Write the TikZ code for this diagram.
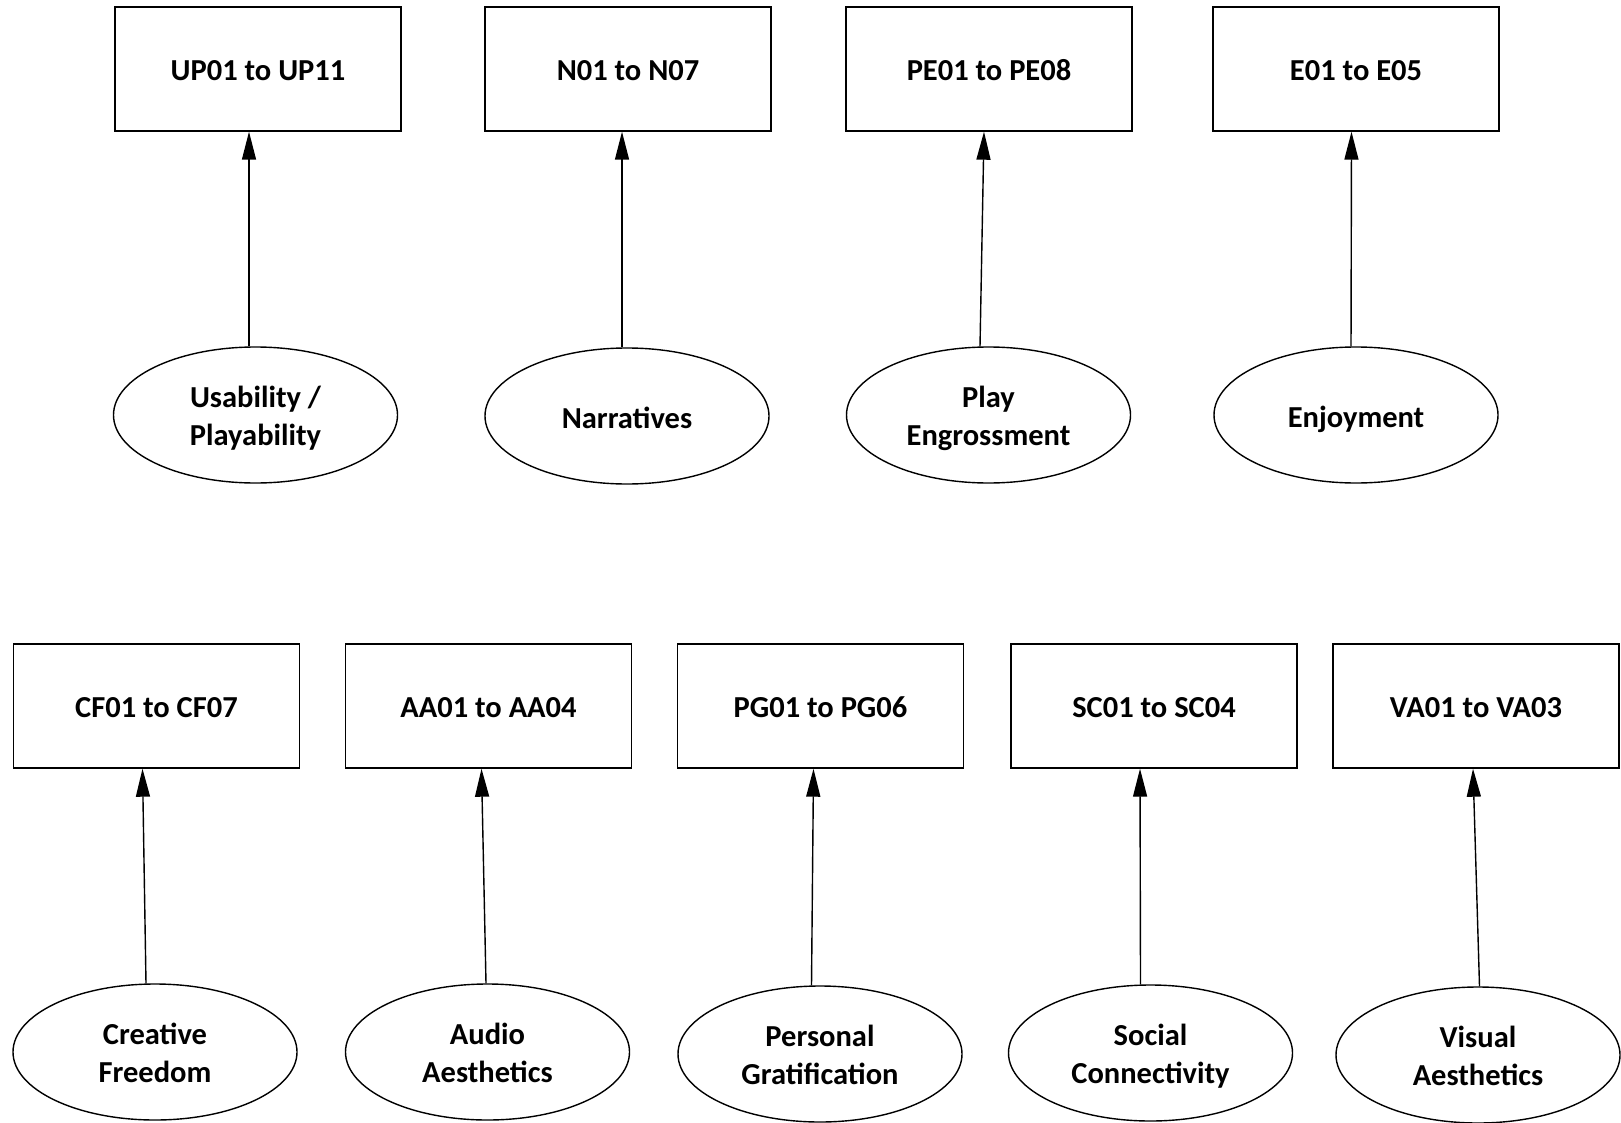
\documentclass[tikz,border=0pt]{standalone}
\usepackage{fontspec}
\setmainfont{Carlito}
\usetikzlibrary{shapes.geometric,arrows.meta}

\begin{document}
\begin{tikzpicture}[x=1pt, y=-1pt,
  font=\fontsize{30.5}{38}\selectfont\bfseries,
  item/.style={draw=black, line width=1.4pt, rectangle, minimum width=286pt, minimum height=124pt, inner sep=2pt, text height=23.5pt, text depth=0pt},
  factor/.style={draw=black, line width=1.4pt, ellipse, minimum width=284pt, minimum height=136pt, align=center, inner sep=1pt, text height=63pt, text depth=3pt},
  factor1/.style={factor, text height=26pt, text depth=2pt},
  arr/.style={-{Triangle[length=28pt,width=14pt]}, line width=1.4pt}]
\useasboundingbox (0,0) rectangle (1621,1123);

% top row: item boxes
\node[item] (up) at (258,69) {UP01 to UP11};
\node[item] (n) at (628,69) {N01 to N07};
\node[item] (pe) at (989,69) {PE01 to PE08};
\node[item] (e) at (1356,69) {E01 to E05};

% top row: factors
\node[factor] (upf) at (255.5,415) {Usability /\\Playability};
\node[factor1] (nf) at (627,416) {Narratives};
\node[factor] (pef) at (988.5,415) {Play\\Engrossment};
\node[factor1] (ef) at (1356,415) {Enjoyment};

\draw[arr] ([xshift=-6.5pt]upf.north) -- ([xshift=-9pt]up.south);
\draw[arr] ([xshift=-5pt]nf.north) -- ([xshift=-6pt]n.south);
\draw[arr] ([xshift=-8.5pt]pef.north) -- ([xshift=-5pt]pe.south);
\draw[arr] ([xshift=-5pt]ef.north) -- ([xshift=-4.5pt]e.south);

% bottom row: item boxes
\node[item] (cf) at (156.5,706) {CF01 to CF07};
\node[item] (aa) at (488.5,706) {AA01 to AA04};
\node[item] (pg) at (820.5,706) {PG01 to PG06};
\node[item] (sc) at (1154,706) {SC01 to SC04};
\node[item] (va) at (1476,706) {VA01 to VA03};

% bottom row: factors
\node[factor] (cff) at (155,1052) {Creative\\Freedom};
\node[factor] (aaf) at (487.5,1052) {Audio\\Aesthetics};
\node[factor] (pgf) at (820,1054) {Personal\\Gratification};
\node[factor] (scf) at (1150.5,1053) {Social\\Connectivity};
\node[factor] (vaf) at (1478,1055) {Visual\\Aesthetics};

\draw[arr] ([xshift=-9pt]cff.north) -- ([xshift=-14pt]cf.south);
\draw[arr] ([xshift=-1.5pt]aaf.north) -- ([xshift=-7pt]aa.south);
\draw[arr] ([xshift=-8.5pt]pgf.north) -- ([xshift=-7pt]pg.south);
\draw[arr] ([xshift=-10pt]scf.north) -- ([xshift=-14pt]sc.south);
\draw[arr] ([xshift=1.5pt]vaf.north) -- ([xshift=-3pt]va.south);
\end{tikzpicture}
\end{document}
